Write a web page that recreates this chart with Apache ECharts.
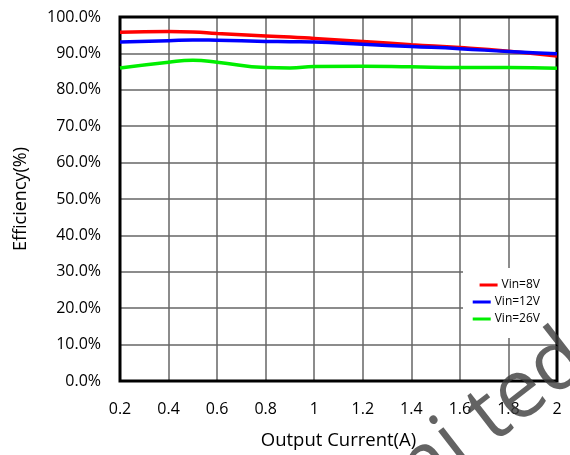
<!DOCTYPE html>
<html><head><meta charset="utf-8">
<script src="https://cdn.jsdelivr.net/npm/echarts@6/dist/echarts.min.js"></script>
<style>html,body{margin:0;padding:0;background:#fff}#c{width:570px;height:455px}</style>
</head><body><div id="c"></div>
<script>
const current = [0.2, 0.4, 0.5, 0.6, 0.8, 0.9, 1.0, 1.2, 1.4, 1.6, 1.8, 2.0];
const vin8  = [95.8, 96.0, 95.9, 95.5, 94.8, 94.5, 94.1, 93.3, 92.4, 91.6, 90.6, 89.3];
const vin12 = [93.1, 93.5, 93.7, 93.6, 93.3, 93.2, 93.1, 92.5, 91.9, 91.3, 90.5, 89.9];
const vin26 = [86.0, 87.6, 88.1, 87.6, 86.1, 86.0, 86.4, 86.5, 86.3, 86.1, 86.1, 85.9];
const seriesNames = ['Vin=8V', 'Vin=12V', 'Vin=26V'];
const seriesColors = ['#ff0000', '#0000ff', '#00ee00'];

const font = 'Open Sans';
const pair = (ys) => current.map((x, i) => [x, ys[i]]);
const chart = echarts.init(document.getElementById('c'));
const mkLegend = (name, top) => ({
  data: [name], right: 30, top: top, orient: 'vertical',
  itemWidth: 18, itemHeight: 3, itemGap: 4, padding: 0,
  icon: 'rect',
  textStyle: { fontFamily: font, fontSize: 12, color: '#000', padding: [0, 0, 0, -1] }
});
chart.setOption({
  animation: false,
  backgroundColor: '#fff',
  grid: { left: 120, top: 17, right: 13, bottom: 70, show: true, borderColor: '#000', borderWidth: 3, z: 3 },
  xAxis: {
    type: 'value', min: 0.2, max: 2, interval: 0.2,
    name: 'Output Current(A)', nameLocation: 'middle', nameGap: 50,
    nameTextStyle: { fontFamily: font, fontSize: 18.5, color: '#000' },
    axisLine: { show: false }, axisTick: { show: false },
    axisLabel: { fontFamily: font, fontSize: 16, color: '#000', margin: 20,
      formatter: v => String(Math.round(v * 10) / 10) },
    splitLine: { show: true, lineStyle: { color: '#666', width: 1.5 } }
  },
  yAxis: {
    type: 'value', min: 0, max: 100, interval: 10,
    name: 'Efficiency(%)', nameLocation: 'middle', nameGap: 90,
    nameTextStyle: { fontFamily: font, fontSize: 18, color: '#000' },
    axisLine: { show: false }, axisTick: { show: false },
    axisLabel: { fontFamily: font, fontSize: 16, color: '#000', margin: 19,
      formatter: v => v.toFixed(1) + '%' },
    splitLine: { show: true, lineStyle: { color: '#666', width: 1.5 } }
  },
  legend: [mkLegend(seriesNames[0], 279), mkLegend(seriesNames[1], 296), mkLegend(seriesNames[2], 313)],
  graphic: [
    { type: 'rect', shape: { x: 463, y: 268, width: 93, height: 70 }, style: { fill: '#fff' }, z: 2 },
    { type: 'text', x: 360, y: 466, rotation: 0.66, z: 10,
      style: { text: 'mi ted', font: '82px "Open Sans"', fill: 'rgba(60,60,60,0.8)' }, originX: 0, originY: 0 }
  ],
  series: [0, 1, 2].map(i => ({
    name: seriesNames[i], type: 'line', smooth: true, symbol: 'none',
    data: pair([vin8, vin12, vin26][i]),
    lineStyle: { color: seriesColors[i], width: 3.5 }, itemStyle: { color: seriesColors[i] }
  }))
});
</script></body></html>
